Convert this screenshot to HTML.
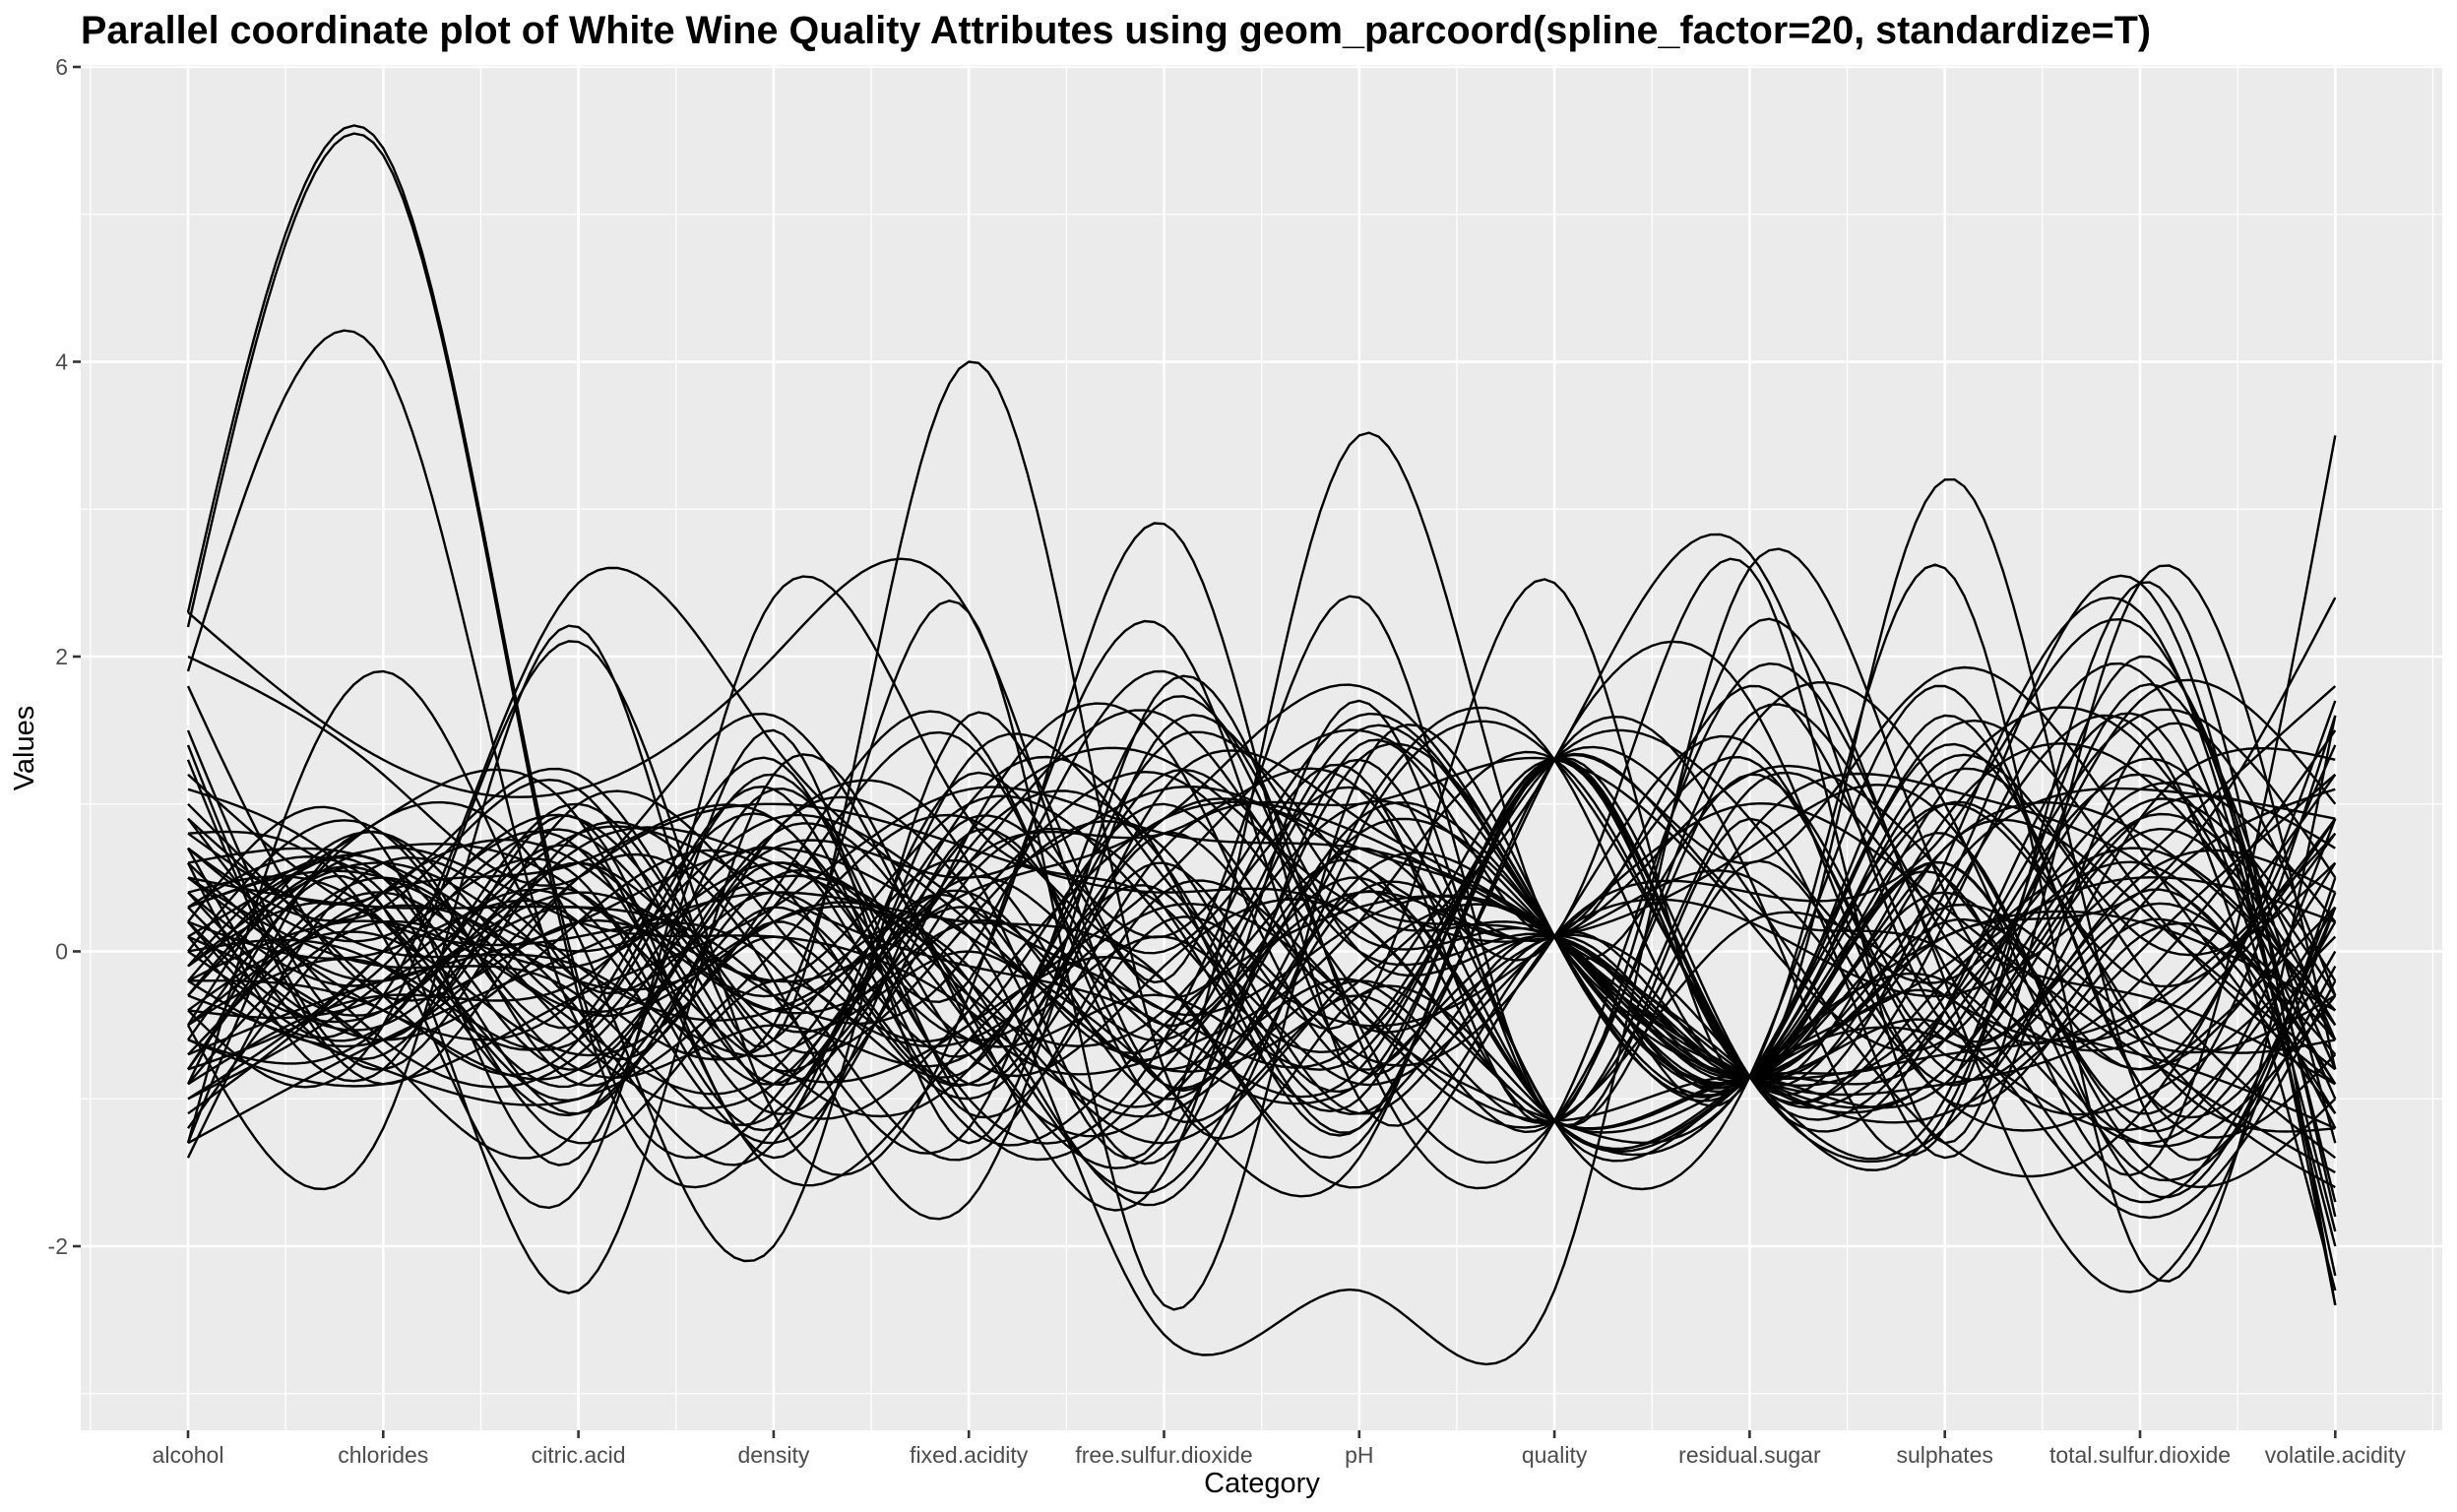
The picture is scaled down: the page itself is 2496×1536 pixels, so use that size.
<!DOCTYPE html>
<html><head><meta charset="utf-8">
<style>
html,body{margin:0;padding:0;background:#fff;}
svg{display:block;font-family:"Liberation Sans",sans-serif;}
</style></head>
<body>
<svg id="chart" width="2496" height="1536" viewBox="0 0 2496 1536">
<text x="82" y="44" font-size="39.5" font-weight="bold" fill="#000">Parallel coordinate plot of White Wine Quality Attributes using geom_parcoord(spline_factor=20, standardize=T)</text>
<rect x="82" y="66" width="2399" height="1387" fill="#ebebeb"/>
<g id="grid"></g>
<g id="lines"></g>
<g id="axes"></g>
<text x="1282" y="1516" font-size="29" text-anchor="middle" fill="#000">Category</text>
<text x="0" y="0" font-size="29" text-anchor="middle" fill="#000" transform="translate(34,760) rotate(-90)">Values</text>
</svg>
<script>
const categories = ["alcohol","chlorides","citric.acid","density","fixed.acidity","free.sulfur.dioxide","pH","quality","residual.sugar","sulphates","total.sulfur.dioxide","volatile.acidity"];
const yTicks = [-2,0,2,4,6];
const series = [
[2.2,5.4,-0.3,-1.2,0.5,-0.4,0.2,0.1,-0.85,0.3,-0.5,-0.6],
[2.3,5.45,-0.2,-1.0,0.3,-0.6,0.5,-1.15,-0.85,0.1,0.2,-0.4],
[1.9,4.0,-0.5,0.2,-0.9,0.8,-0.3,1.3,-0.85,-0.4,1.2,-0.8],
[-1.3,1.9,-0.2,0.4,-0.6,0.1,-0.9,0.1,0.2,-0.3,0.6,1.8],
[-0.9,0.3,-2.3,1.2,-0.5,-1.0,0.8,0.1,-0.85,0.5,-1.5,3.5],
[0.1,-0.3,2.5,1.4,0.2,-0.8,-0.2,1.3,2.7,-0.5,0.4,-1.2],
[-0.5,-1.2,2.2,-0.6,4.0,-0.8,-0.3,-1.15,-0.85,1.0,-0.2,0.9],
[0.5,-0.4,-0.3,0.9,-0.2,2.9,-1.0,0.1,-0.85,0.2,-0.6,-0.3],
[-0.2,0.2,-0.5,-0.8,0.3,-1.2,3.5,0.1,1.2,-0.6,0.3,-0.9],
[0.3,-0.6,0.2,0.5,-0.9,0.6,-0.4,2.5,-0.85,3.2,-1.0,0.3],
[-1.2,0.4,0.6,-0.3,0.1,-2.6,-2.3,-2.3,2.6,0.4,-0.7,-1.2],
[0.6,-0.8,0.9,-1.4,0.8,-0.5,0.7,0.1,2.6,-1.3,2.5,-0.8],
[2.3,1.3,1.1,2.0,2.3,-0.9,0.4,-1.15,-0.85,-0.2,-1.3,0.2],
[-0.4,-0.5,2.1,-1.1,-0.3,2.2,-0.8,1.3,0.5,-1.2,2.5,-2.4],
[0.8,0.1,-1.6,2.4,0.9,0.3,-1.1,0.1,-0.85,2.6,-2.1,1.6],
[-1.0,-0.2,0.3,-0.5,2.3,-2.4,1.2,0.1,-0.85,1.0,-0.5,-1.6],
[0.2,0.7,-1.4,1.5,-1.3,1.8,-0.6,-1.15,1.9,-0.2,-2.3,0.5],
[-0.6,0.9,0.1,-2.0,1.6,-0.2,2.4,-1.15,0.9,-1.4,1.4,-0.3],
[1.3,-0.9,0.5,-0.2,-1.7,1.5,0.3,0.1,-0.85,1.6,-0.9,-0.7],
[-0.3,0.5,-0.8,0.8,-0.4,-1.5,1.7,-1.15,0.6,-0.9,0.9,1.3],
[0.0,-0.4,0.4,-0.9,1.0,0.6,-1.2,1.3,-0.85,-0.4,1.6,-2.0],
[0.4,0.2,-1.1,0.3,-0.7,1.2,0.1,0.1,-0.85,0.6,-1.2,0.9],
[-0.8,-0.1,0.8,-0.4,0.4,-0.7,1.3,-1.15,-0.85,-0.1,0.7,-0.5],
[1.0,-0.3,-0.6,1.1,-1.1,0.2,-0.7,0.1,1.4,-0.8,0.3,1.1],
[-0.1,0.6,-0.2,-0.6,0.6,-1.0,0.9,1.3,-0.85,0.8,-1.6,0.4],
[0.7,-0.7,1.0,0.2,-0.5,1.0,-0.5,0.1,-0.85,-1.1,1.8,-1.3],
[-0.5,0.3,-0.4,-1.3,1.2,-0.3,0.6,-1.15,1.1,0.2,-0.3,-0.9],
[0.2,-0.5,0.7,0.6,-0.2,-1.3,-0.1,0.1,-0.85,1.3,0.1,0.6],
[-1.3,0.8,-0.9,0.1,-1.0,0.7,1.0,1.3,0.2,-0.6,1.0,-0.2],
[0.9,0.0,-0.1,-0.7,0.2,-0.6,-0.9,0.1,-0.85,0.4,-0.8,1.7],
[-0.2,-0.6,0.5,1.0,0.7,0.4,0.2,-1.15,-0.85,-0.5,1.3,-0.6],
[0.3,0.4,-1.3,-0.2,-0.8,1.4,0.5,0.1,0.7,0.9,-1.4,-1.0],
[-0.7,-0.2,0.2,0.7,0.1,-0.9,-1.4,1.3,-0.85,-0.2,0.5,0.2],
[1.5,-0.6,0.6,-1.0,-0.4,0.9,0.8,0.1,-0.85,-1.0,2.0,-1.8],
[-0.4,0.1,-0.7,0.4,1.5,-1.1,-0.3,-1.15,1.6,0.1,-0.6,0.8],
[0.1,0.9,0.9,-1.5,-0.6,0.5,1.5,0.1,-0.85,0.7,0.8,-0.4],
[-0.9,-0.3,-0.2,0.9,0.3,-0.4,-0.6,1.3,0.4,-1.3,-1.1,1.4],
[0.5,0.3,0.3,-0.3,-1.2,1.7,0.0,0.1,-0.85,0.3,1.5,-2.3],
[-0.3,-0.8,-1.0,0.0,0.9,0.0,1.1,-1.15,-0.85,1.8,-0.9,0.0],
[0.6,0.6,0.0,0.5,-0.3,-1.6,0.4,0.1,1.3,-0.7,0.2,-1.1],
[-1.1,0.0,0.7,-1.1,0.5,0.3,-1.0,1.3,-0.85,0.5,1.1,0.9],
[0.0,-0.1,-0.5,1.3,-0.9,1.1,0.9,0.1,-0.85,-0.3,-1.7,0.3],
[0.8,0.4,1.2,-0.5,0.0,-0.8,-0.2,-1.15,0.8,1.1,0.6,-0.7],
[-0.6,-0.9,-0.3,0.3,1.1,0.8,0.7,0.1,-0.85,-0.9,-0.4,1.2],
[0.3,0.7,0.4,-0.8,-0.5,-0.2,-1.3,1.3,-0.85,0.6,2.3,-2.2],
[-0.2,-0.4,-0.8,0.8,0.6,-1.4,1.4,0.1,1.8,-0.4,-1.0,0.1],
[1.2,0.2,0.1,-0.1,-1.4,0.4,-0.4,-1.15,-0.85,1.5,0.4,-0.9],
[-0.8,0.5,-0.6,-0.9,0.8,1.3,0.3,0.1,-0.85,-0.8,0.9,0.7],
[0.4,-0.2,0.8,0.4,-0.1,-0.5,-0.8,1.3,0.3,0.0,-1.3,-0.3],
[-1.4,0.6,-0.1,-0.4,0.4,0.9,1.8,0.1,-0.85,1.2,-0.1,-1.4],
[0.1,-0.7,-1.2,1.1,-0.7,-0.1,0.2,-1.15,-0.85,-0.6,1.7,1.0],
[0.7,0.1,0.5,-1.2,1.3,0.5,-0.5,0.1,1.0,0.3,-0.7,-1.5],
[-0.5,0.8,-0.4,0.2,-0.2,-1.7,0.8,1.3,-0.85,-1.2,0.5,0.4],
[0.2,-0.5,1.0,-0.6,0.2,0.7,-1.1,0.1,-0.85,0.9,1.2,-0.6],
[-0.1,0.2,-0.9,0.6,-1.0,-0.6,1.2,-1.15,2.2,-0.1,-0.2,1.5],
[1.8,-0.3,0.2,-0.2,0.6,1.6,0.0,0.1,-0.85,-0.5,-1.8,-0.2],
[-0.7,0.4,0.6,0.9,-0.6,-0.3,-0.7,1.3,0.6,1.9,0.7,-1.1],
[0.5,-0.1,-0.3,-1.1,0.9,0.1,1.6,0.1,-0.85,-0.7,-0.4,0.8],
[-0.3,0.7,0.2,0.1,-0.4,-1.1,-0.2,-1.15,-0.85,0.4,2.5,-2.4],
[0.9,-0.6,-0.7,0.7,0.5,1.1,0.6,0.1,0.5,-1.0,-0.9,0.3],
[-1.0,0.0,0.9,-0.7,-0.8,0.4,-1.2,1.3,-0.85,0.7,0.3,-0.8],
[0.3,0.5,-0.2,0.3,1.4,-0.9,0.5,0.1,-0.85,-0.3,1.6,0.5],
[-0.4,-0.3,0.4,-0.3,0.0,1.9,-0.5,-1.15,1.5,1.0,-1.5,-0.1],
[1.1,0.3,-1.0,0.5,-0.3,-0.4,1.0,0.1,-0.85,-1.1,0.0,1.2],
[-0.6,-0.5,0.7,-0.9,0.7,0.6,-0.9,1.3,-0.85,0.2,1.9,-1.9],
[0.0,0.8,-0.5,1.2,-1.1,-0.8,0.4,0.1,1.2,0.5,-0.8,0.6],
[0.6,-0.2,0.3,-0.4,0.3,1.2,-0.3,-1.15,-0.85,-0.9,0.8,-0.5],
[-0.9,0.2,-0.1,0.6,-0.5,-1.3,1.3,0.1,-0.85,1.4,-0.6,-1.2],
[0.4,-0.4,0.6,-0.2,1.0,0.2,-0.6,1.3,0.9,-0.2,1.1,0.2],
[-0.2,0.6,-0.8,-0.5,-0.7,0.9,0.7,0.1,-0.85,0.6,-1.1,1.6],
[2.0,1.2,0.5,1.6,-0.4,-0.7,0.2,1.3,-0.85,-0.4,0.6,-0.9],
[-1.3,-0.6,0.0,0.4,0.2,-0.2,-1.6,0.1,0.4,0.8,2.2,-1.7],
[0.7,0.3,1.1,-0.8,0.6,0.8,1.1,-1.15,-0.85,-0.6,-1.2,0.3],
[-0.5,-0.1,-0.6,0.7,-1.2,-0.5,0.3,0.1,-0.85,0.1,0.4,2.4],
[0.2,0.0,0.2,-1.3,0.8,1.4,-0.8,1.3,1.7,-1.0,0.1,-0.6],
[-0.8,0.4,-0.4,0.2,-0.1,-1.0,0.9,0.1,-0.85,1.1,1.4,-1.0],
[1.4,-0.8,0.8,0.0,-0.6,0.3,-0.4,-1.15,0.2,-0.3,-0.5,0.9],
[-0.1,0.5,-1.1,0.8,0.4,-0.6,1.5,0.1,-0.85,-0.8,0.9,-0.3]
];

const svgNS = "http://www.w3.org/2000/svg";
const PL = 82, PR = 2481, PT = 66, PB = 1453;
const X0 = 191, XSTEP = 198.3;
const Y0 = 966.5, YUNIT = 149.75;
function xs(i){ return X0 + i*XSTEP; }
function ys(v){ return Y0 - v*YUNIT; }

const grid = document.getElementById('grid');
const axes = document.getElementById('axes');
function mk(tag, attrs, parent){
  const e = document.createElementNS(svgNS, tag);
  for (const k in attrs) e.setAttribute(k, attrs[k]);
  parent.appendChild(e);
  return e;
}
for (let i=0;i<yTicks.length-1;i++){
  const v=(yTicks[i]+yTicks[i+1])/2;
  const l=mk('line',{x1:PL,x2:PR,y1:ys(v),y2:ys(v),stroke:'#fff','stroke-width':1.3},grid);
  
  
}
{
  const v=yTicks[0]-1; const l=mk('line',{x1:PL,x2:PR,y1:ys(v),y2:ys(v),stroke:'#fff','stroke-width':1.3},grid);
  
  
}
for (let i=-1;i<categories.length;i++){
  const x=xs(i+0.5);
  const l=mk('line',{x1:x,x2:x,y1:PT,y2:PB,stroke:'#fff','stroke-width':1.3},grid);
  
  
}
yTicks.forEach(v=>{
  const l=mk('line',{x1:PL,x2:PR,y1:ys(v),y2:ys(v),stroke:'#fff','stroke-width':2.6},grid);
  
  
  const t=mk('line',{x1:PL-8,x2:PL,y1:ys(v),y2:ys(v),stroke:'#333','stroke-width':2.6},axes);
  
  
  const tx=mk('text',{x:PL-13,y:ys(v)+8,'font-size':23,'text-anchor':'end',fill:'#4d4d4d'},axes);
  tx.textContent=v;
  
  
});
categories.forEach((c,i)=>{
  const x=xs(i);
  const l=mk('line',{x1:x,x2:x,y1:PT,y2:PB,stroke:'#fff','stroke-width':2.6},grid);
  
  
  const t=mk('line',{x1:x,x2:x,y1:PB,y2:PB+8,stroke:'#333','stroke-width':2.6},axes);
  
  
  const tx=mk('text',{x:x,y:PB+33,'font-size':23,'text-anchor':'middle',fill:'#4d4d4d'},axes);
  tx.textContent=c;
  
  
});

function spline(vals){
  const n=vals.length, M=new Array(n).fill(0);
  const a=[],b=[],c=[],d=[];
  for(let i=1;i<n-1;i++){a.push(1);b.push(4);c.push(1);d.push(6*(vals[i-1]-2*vals[i]+vals[i+1]));}
  const m=d.length;
  for(let i=1;i<m;i++){const w=a[i]/b[i-1];b[i]-=w*c[i-1];d[i]-=w*d[i-1];}
  const sol=new Array(m);
  sol[m-1]=d[m-1]/b[m-1];
  for(let i=m-2;i>=0;i--) sol[i]=(d[i]-c[i]*sol[i+1])/b[i];
  for(let i=0;i<m;i++) M[i+1]=sol[i];
  const pts=[];
  const S=20;
  for(let i=0;i<n-1;i++){
    for(let k=0;k<=(i===n-2?S:S-1);k++){
      const t=k/S;
      const y=(1-t)*vals[i]+t*vals[i+1]+((Math.pow(1-t,3)-(1-t))*M[i]+(Math.pow(t,3)-t)*M[i+1])/6;
      pts.push([xs(i+t),ys(y)]);
    }
  }
  return pts;
}
const lines=document.getElementById('lines');
series.forEach(vals=>{
  const pts=spline(vals);
  const p=mk('path',{d:'M'+pts.map(q=>q[0].toFixed(1)+','+q[1].toFixed(1)).join('L'),fill:'none',stroke:'#000','stroke-width':2.4},lines);
  
  
});
</script>
</body></html>
